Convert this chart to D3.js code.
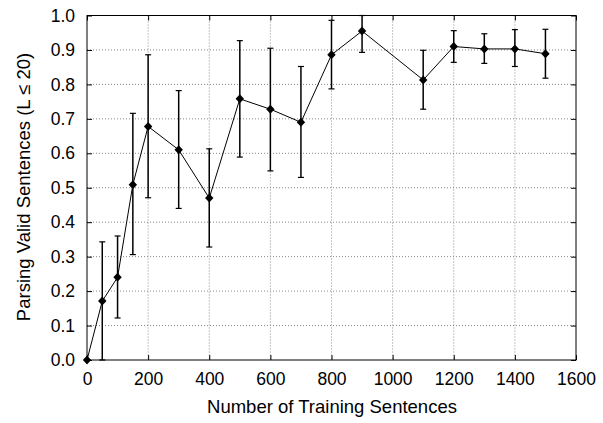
<!DOCTYPE html>
<html>
<head>
<meta charset="utf-8">
<script src="https://cdn.jsdelivr.net/npm/d3@7"></script>
<style>
  body { margin: 0; background: #fff; }
  text { font-family: "Liberation Sans", Arial, sans-serif; }
</style>
</head>
<body>
<div id="chart"></div>
<script>
// training set sizes and parsing accuracy
const sizes = [0, 50, 100, 150, 200, 300, 400, 500, 600, 700, 800, 900, 1100, 1200, 1300, 1400, 1500];
const accuracy = [0, 0.171, 0.240, 0.509, 0.678, 0.610, 0.470, 0.758, 0.728, 0.690, 0.886, 0.955, 0.813, 0.910, 0.903, 0.903, 0.889];
const errLow = [0, 0, 0.122, 0.306, 0.471, 0.440, 0.328, 0.589, 0.549, 0.530, 0.787, 0.893, 0.728, 0.864, 0.861, 0.852, 0.818];
const errHigh = [0, 0.343, 0.360, 0.716, 0.886, 0.782, 0.613, 0.927, 0.905, 0.852, 0.986, 1.0, 0.899, 0.956, 0.947, 0.959, 0.960];

const xTicks = [0, 200, 400, 600, 800, 1000, 1200, 1400, 1600];
const yTicks = [0, 0.1, 0.2, 0.3, 0.4, 0.5, 0.6, 0.7, 0.8, 0.9, 1.0];

const width = 603, height = 423;
const margin = { top: 15.5, right: 27, bottom: 63, left: 87 };
const iw = width - margin.left - margin.right;
const ih = height - margin.top - margin.bottom;

const svg = d3.select("#chart").append("svg")
    .attr("width", width)
    .attr("height", height);

const g = svg.append("g")
    .attr("transform", `translate(${margin.left},${margin.top})`);

const x = d3.scaleLinear().domain([0, 1600]).range([0, iw]);
const y = d3.scaleLinear().domain([0, 1]).range([ih, 0]);

// dotted grid
g.selectAll("line.gx")
    .data(xTicks.slice(1, -1))
    .enter().append("line")
    .attr("x1", d => x(d)).attr("x2", d => x(d))
    .attr("y1", 0).attr("y2", ih)
    .attr("stroke", "#888").attr("stroke-width", 1)
    .attr("stroke-dasharray", "1,2");

g.selectAll("line.gy")
    .data(yTicks.slice(1, -1))
    .enter().append("line")
    .attr("x1", 0).attr("x2", iw)
    .attr("y1", d => y(d)).attr("y2", d => y(d))
    .attr("stroke", "#888").attr("stroke-width", 1)
    .attr("stroke-dasharray", "1,2");

// axes with inward ticks
const xAxis = g.append("g")
    .attr("transform", `translate(0,${ih})`)
    .call(d3.axisBottom(x).tickValues(xTicks).tickSizeInner(-5).tickSizeOuter(0).tickPadding(12.5).tickFormat(d3.format("d")));
const yAxis = g.append("g")
    .call(d3.axisLeft(y).tickValues(yTicks).tickSizeInner(-5).tickSizeOuter(0).tickPadding(12).tickFormat(d3.format(".1f")));
g.append("g")
    .call(d3.axisTop(x).tickValues(xTicks).tickSizeInner(-5).tickSizeOuter(0).tickFormat(""));
g.append("g")
    .attr("transform", `translate(${iw},0)`)
    .call(d3.axisRight(y).tickValues(yTicks).tickSizeInner(-5).tickSizeOuter(0).tickFormat(""));

g.selectAll(".domain").remove();
g.selectAll(".tick line").attr("stroke", "#000");
xAxis.selectAll("text").attr("font-size", 17.5).attr("fill", "#000");
yAxis.selectAll("text").attr("font-size", 17.5).attr("fill", "#000");

// frame
g.append("rect")
    .attr("width", iw).attr("height", ih)
    .attr("fill", "none").attr("stroke", "#000").attr("stroke-width", 1);

const pts = sizes.map((s, i) => ({ s, v: accuracy[i], lo: errLow[i], hi: errHigh[i] }));

// error bars
const eb = g.selectAll("g.err").data(pts.filter(d => d.hi > d.lo)).enter().append("g");
eb.append("line")
    .attr("x1", d => x(d.s)).attr("x2", d => x(d.s))
    .attr("y1", d => y(d.lo)).attr("y2", d => y(d.hi))
    .attr("stroke", "#000").attr("stroke-width", 1.5);
eb.append("line")
    .attr("x1", d => x(d.s) - 3).attr("x2", d => x(d.s) + 3)
    .attr("y1", d => y(d.lo)).attr("y2", d => y(d.lo))
    .attr("stroke", "#000").attr("stroke-width", 1.2);
eb.append("line")
    .attr("x1", d => x(d.s) - 3).attr("x2", d => x(d.s) + 3)
    .attr("y1", d => y(d.hi)).attr("y2", d => y(d.hi))
    .attr("stroke", "#000").attr("stroke-width", 1.2);

// connecting line
g.append("path")
    .datum(pts)
    .attr("fill", "none").attr("stroke", "#000").attr("stroke-width", 1)
    .attr("d", d3.line().x(d => x(d.s)).y(d => y(d.v)));

// diamond markers
g.selectAll("path.pt")
    .data(pts)
    .enter().append("path")
    .attr("transform", d => `translate(${x(d.s)},${y(d.v)})`)
    .attr("d", "M0,-4.5L4.2,0L0,4.5L-4.2,0Z")
    .attr("fill", "#000");

// axis titles
svg.append("text")
    .attr("x", 332)
    .attr("y", 413)
    .attr("text-anchor", "middle")
    .attr("font-size", 18.5)
    .text("Number of Training Sentences");

svg.append("text")
    .attr("transform", `translate(30,187) rotate(-90)`)
    .attr("text-anchor", "middle")
    .attr("font-size", 18.5)
    .text("Parsing Valid Sentences (L \u2264 20)");
</script>
</body>
</html>
